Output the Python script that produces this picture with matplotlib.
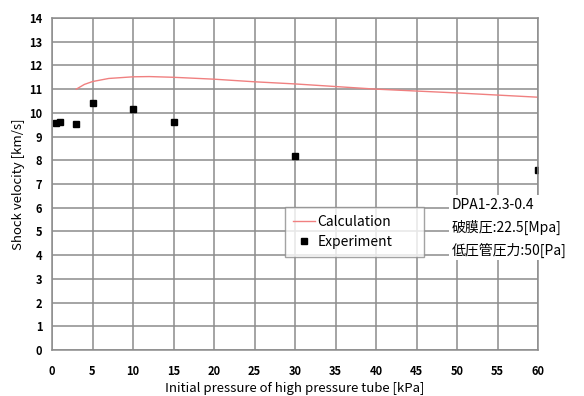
import matplotlib
matplotlib.use("Agg")
import matplotlib.pyplot as plt

plt.rcParams['font.family'] = ['Noto Sans CJK JP', 'DejaVu Sans']

exp_x = [0.5, 1, 3, 5, 10, 15, 30, 60]
exp_y = [9.56, 9.63, 9.54, 10.43, 10.17, 9.6, 8.16, 7.6]

calc_x = [3, 4, 5, 7, 10, 12, 15, 20, 25, 30, 35, 40, 45, 50, 55, 60]
calc_y = [11.0, 11.2, 11.32, 11.45, 11.52, 11.53, 11.5, 11.42, 11.31, 11.22, 11.11,
          11.0, 10.92, 10.84, 10.75, 10.66]

x_ticks = list(range(0, 61, 5))
y_ticks = list(range(0, 15))

fig = plt.figure(figsize=(5.84, 3.96), dpi=100)
ax = fig.add_axes([52/584, 46/396, 486/584, 332/396])

l1, = ax.plot(calc_x, calc_y, color='#f08080', lw=1.0, label='Calculation')
l2, = ax.plot(exp_x, exp_y, ls='none', marker='s', ms=4.5, color='black', label='Experiment')

ax.set_xlim(0, 60)
ax.set_ylim(0, 14)
ax.set_xticks(x_ticks)
ax.set_yticks(y_ticks)
ax.grid(True, color='#8c8c8c', lw=1.1)
ax.set_axisbelow(True)
for s in ax.spines.values():
    s.set_color('#8c8c8c')
    s.set_linewidth(1.1)
ax.tick_params(length=0, labelsize=8)
ax.tick_params(axis='x', pad=11)
ax.tick_params(axis='y', pad=7)
for lab in ax.get_xticklabels() + ax.get_yticklabels():
    lab.set_fontweight('bold')

ax.set_xlabel('Initial pressure of high pressure tube [kPa]', fontsize=9.5, labelpad=3)
ax.set_ylabel('Shock velocity [km/s]', fontsize=9.5, labelpad=3)

leg = ax.legend(handles=[l1, l2], loc='upper left',
                bbox_to_anchor=(233/486, (350-259)/332, 139/486, 52/332),
                mode='expand',
                fontsize=10, frameon=True, fancybox=False, edgecolor='#8c8c8c',
                handlelength=1.6, borderpad=0.55, labelspacing=0.45, handletextpad=0.2,
                borderaxespad=0)
leg.get_frame().set_linewidth(1.0)
leg._legend_box.align = 'left'

t = ax.text(49.3, 6.42, 'DPA1-2.3-0.4\n破膜圧:22.5[Mpa]\n低圧管圧力:50[Pa]', fontsize=10,
            va='top', ha='left', linespacing=1.65, clip_on=False,
            bbox=dict(facecolor='white', edgecolor='none', pad=2))

fig.savefig('out.png', dpi=100)
